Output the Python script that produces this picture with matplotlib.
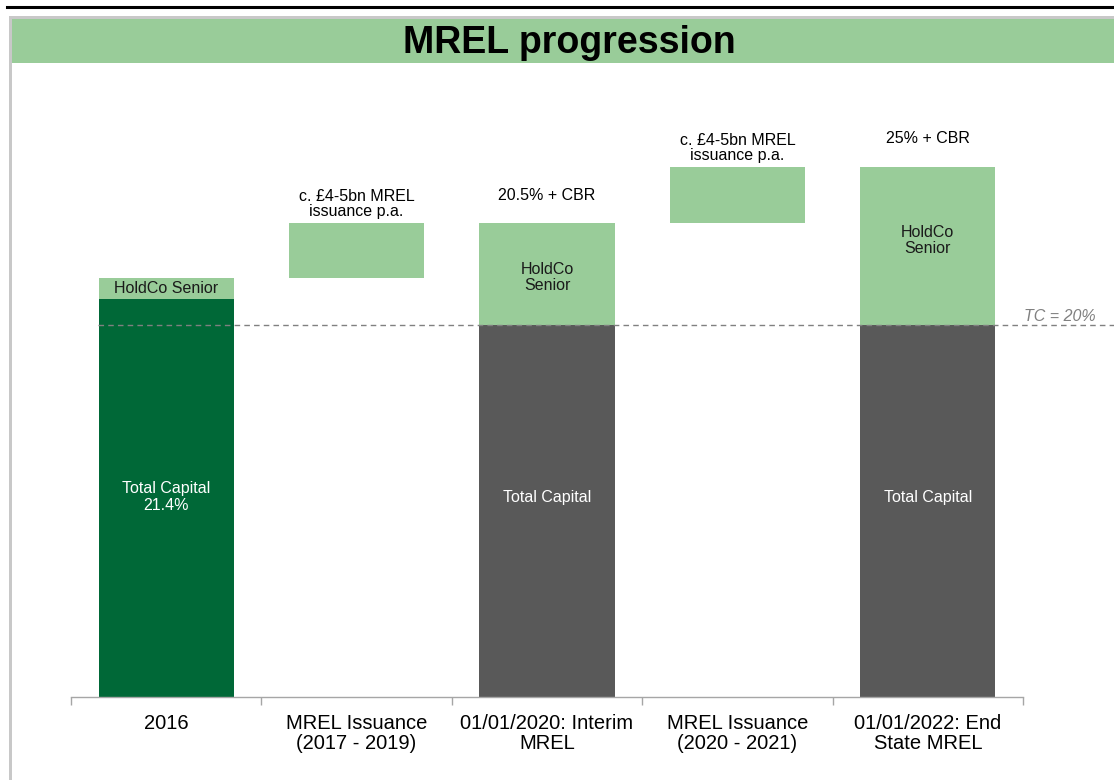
import matplotlib
matplotlib.use("Agg")
import matplotlib.pyplot as plt
from matplotlib.patches import Rectangle
from matplotlib.lines import Line2D

plt.rcParams['font.family'] = ['Liberation Sans', 'DejaVu Sans']

categories = ["2016", "MREL Issuance\n(2017 - 2019)", "01/01/2020: Interim\nMREL",
              "MREL Issuance\n(2020 - 2021)", "01/01/2022: End\nState MREL"]
# Total capital (base) segment
tc_bottom = [0, None, 0, None, 0]
tc_top = [21.4, None, 20.0, None, 20.0]
tc_labels = ["Total Capital\n21.4%", None, "Total Capital", None, "Total Capital"]
# HoldCo / issuance segment
hc_bottom = [21.4, 22.5, 20.0, 25.5, 20.0]
hc_top = [22.5, 25.5, 25.5, 28.5, 28.5]
hc_labels = ["HoldCo Senior", None, "HoldCo\nSenior", None, "HoldCo\nSenior"]
hc_label_y = [21.95, None, 22.55, None, 24.55]
top_notes = ["", "c. £4-5bn MREL\nissuance p.a.", "20.5% + CBR", "c. £4-5bn MREL\nissuance p.a.", "25% + CBR"]
note_offset = [0, 1.02, 1.45, 1.02, 1.55]
tc_line = 20.0
tc_text = "TC = 20%"

DARK_GREEN = "#006837"
LIGHT_GREEN = "#99CC99"
GREY = "#595959"
tc_colors = [DARK_GREEN, None, GREY, None, GREY]

W, H = 1114, 780
fig = plt.figure(figsize=(W / 100, H / 100), dpi=100)

# decorations (frame, banner, top rule)
fig.add_artist(Line2D([7 / W, 1], [1 - 7 / H, 1 - 7 / H], color="black", lw=2.2))
fig.add_artist(Rectangle((9 / W, 0), 3 / W, 1 - 16 / H, facecolor="#c8c8c8", edgecolor="none"))
fig.add_artist(Rectangle((9 / W, 1 - 19 / H), 1, 3 / H, facecolor="#c8c8c8", edgecolor="none"))
fig.add_artist(Rectangle((12 / W, 1 - 63 / H), 1, 44 / H, facecolor=LIGHT_GREEN, edgecolor="none"))
fig.text(569 / W, 1 - 43 / H, "MREL progression", ha="center", va="center",
         fontsize=27, fontweight="bold", color="black")

ax = fig.add_axes([71 / W, 83 / H, 952 / W, 558 / H])
x = list(range(len(categories)))
bw = 0.71

for i in x:
    if tc_top[i] is not None:
        ax.bar(i, tc_top[i] - tc_bottom[i], bottom=tc_bottom[i], width=bw,
               color=tc_colors[i], edgecolor="none", zorder=2)
        ax.text(i, 10.75, tc_labels[i], ha="center", va="center", color="white",
                fontsize=11.5, linespacing=1.1, zorder=4)
    ax.bar(i, hc_top[i] - hc_bottom[i], bottom=hc_bottom[i], width=bw,
           color=LIGHT_GREEN, edgecolor="none", zorder=2)
    if hc_labels[i]:
        ax.text(i, hc_label_y[i], hc_labels[i], ha="center", va="center", color="#1a1a1a",
                fontsize=11.5, linespacing=1.05, zorder=4)
    if top_notes[i]:
        ax.text(i, hc_top[i] + note_offset[i], top_notes[i], ha="center", va="center",
                color="black", fontsize=11.5, linespacing=1.0, zorder=4)

ax.axhline(tc_line, xmin=(98 - 71) / 952, xmax=(1114 - 71) / 952, color="#808080",
           lw=1.0, ls=(0, (4, 3)), clip_on=False, zorder=3)
ax.text((1060 - 71) / 952, tc_line + 0.05, tc_text, transform=ax.get_yaxis_transform(),
        ha="center", va="bottom", fontsize=11.5, style="italic", color="#808080")

ax.set_xlim(-0.5, len(categories) - 0.5)
ax.set_ylim(0, 30)
ax.set_xticks(x)
ax.set_xticklabels(categories, fontsize=14.5, linespacing=1.1)
ax.set_xticks([i - 0.5 for i in range(len(categories) + 1)], minor=True)
ax.tick_params(axis="x", which="major", length=0, pad=12)
ax.tick_params(axis="x", which="minor", length=6, color="#a6a6a6", width=1)
ax.set_yticks([])
for s in ["top", "left", "right"]:
    ax.spines[s].set_visible(False)
ax.spines["bottom"].set_color("#a6a6a6")
ax.spines["bottom"].set_linewidth(1)

fig.savefig("out.png", dpi=100)
